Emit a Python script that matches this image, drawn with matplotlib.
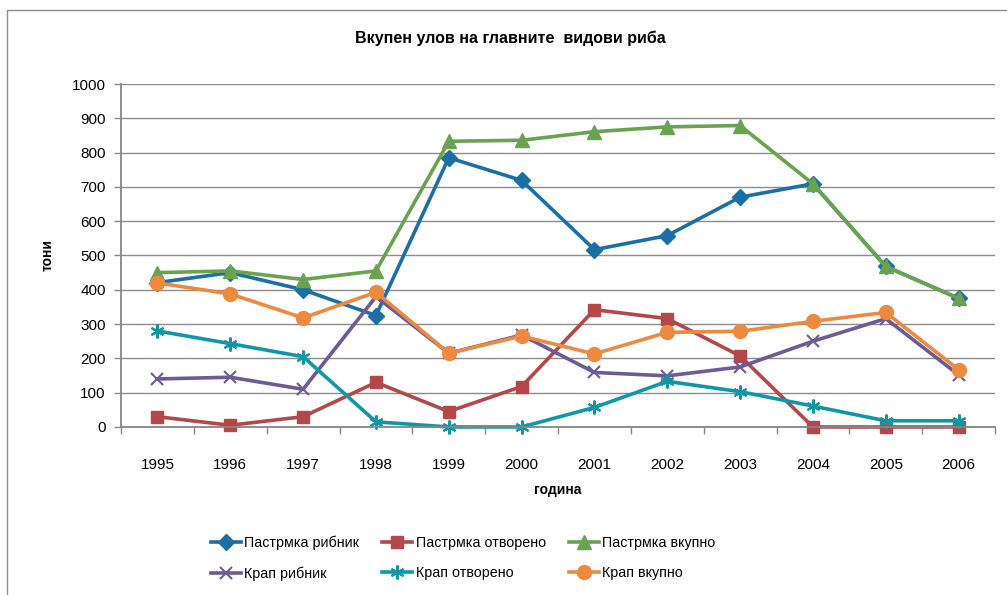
import matplotlib.pyplot as plt
import matplotlib.patches as patches

plt.rcParams['font.family'] = ['Liberation Sans', 'DejaVu Sans']

years = [1995, 1996, 1997, 1998, 1999, 2000, 2001, 2002, 2003, 2004, 2005, 2006]

pastrmka_ribnik = [421, 450, 400, 325, 785, 719, 517, 558, 670, 709, 468, 375]
pastrmka_otvoreno = [30, 5, 30, 130, 45, 118, 342, 316, 207, 0, 0, 0]
pastrmka_vkupno = [450, 455, 430, 455, 833, 836, 861, 875, 879, 709, 468, 375]
krap_ribnik = [140, 145, 110, 380, 215, 268, 159, 149, 175, 250, 316, 152]
krap_otvoreno = [280, 243, 205, 15, 0, 0, 57, 133, 103, 61, 18, 18]
krap_vkupno = [420, 388, 318, 393, 215, 265, 213, 276, 279, 308, 334, 167]

series = [
    ('Пастрмка рибник', pastrmka_ribnik, '#1a6fa5', 'D', 8),
    ('Пастрмка отворено', pastrmka_otvoreno, '#b4474a', 's', 9),
    ('Пастрмка вкупно', pastrmka_vkupno, '#6aa34f', '^', 10),
    ('Крап рибник', krap_ribnik, '#6e5a95', 'x', 9),
    ('Крап отворено', krap_otvoreno, '#0e98a6', (6, 2, 0), 10),
    ('Крап вкупно', krap_vkupno, '#ee8940', 'o', 10),
]

fig = plt.figure(figsize=(10.07, 5.95), dpi=100)
ax = fig.add_axes([0.1202, 0.2824, 0.8679, 0.5764])

x = list(range(len(years)))
for name, vals, col, mk, ms in series:
    ax.plot(x, vals, color=col, lw=2.6, marker=mk, markersize=ms,
            markeredgewidth=1.5 if mk in ('x', (6, 2, 0)) else 1,
            markeredgecolor=col, markerfacecolor=col, label=name,
            clip_on=False)

ax.set_xlim(-0.5, len(years) - 0.5)
ax.set_ylim(0, 1000)
ax.set_yticks(range(0, 1001, 100))
ax.set_xticks(x)
ax.set_xticklabels([str(y) for y in years])
ax.set_xticks([i - 0.5 for i in range(len(years) + 1)], minor=True)
ax.tick_params(axis='x', which='major', length=0, pad=22, labelsize=11)
ax.tick_params(axis='x', which='minor', length=5, color='#868686', width=1)
ax.tick_params(axis='y', length=5, color='#868686', width=1, labelsize=11, pad=6)
ax.grid(axis='y', color='#8c8c8c', lw=1)
ax.set_axisbelow(True)
for s in ['top', 'right']:
    ax.spines[s].set_visible(False)
for s in ['left', 'bottom']:
    ax.spines[s].set_color('#868686')
    ax.spines[s].set_linewidth(1.3)

ax.set_xlabel('година', fontsize=10, fontweight='bold', labelpad=8)
ax.set_ylabel('тони', fontsize=10, fontweight='bold', labelpad=12)

fig.text(0.507, 1 - 38 / 595, 'Вкупен улов на главните  видови риба',
         ha='center', va='center', fontsize=11.5, fontweight='bold')

handles, labels = ax.get_legend_handles_labels()
order = [0, 3, 1, 4, 2, 5]
fig.legend([handles[i] for i in order], [labels[i] for i in order],
           loc='center', bbox_to_anchor=(0.46, 1 - 558 / 595), ncol=3,
           frameon=False, fontsize=10.3, handlelength=2.1, columnspacing=1.6,
           labelspacing=1.15, handletextpad=0.25)

# chart area border
fig.patches.append(patches.Rectangle((7 / 1007, -0.01), 1.1, 1 - 10 / 595 + 0.01,
                                     transform=fig.transFigure, fill=False,
                                     edgecolor='#8c8c8c', lw=1))

fig.savefig('out.png', dpi=100)
